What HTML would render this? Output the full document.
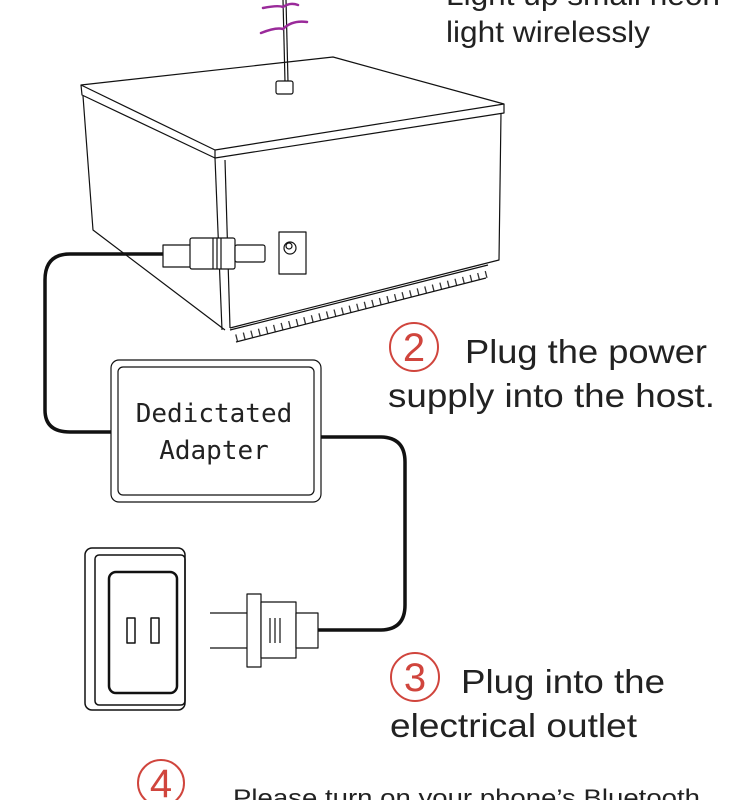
<!DOCTYPE html>
<html><head><meta charset="utf-8"><style>
html,body{margin:0;padding:0;background:#fff;}
svg{display:block}
</style></head><body>
<svg width="750" height="800" viewBox="0 0 750 800" xmlns="http://www.w3.org/2000/svg">
<g fill="none" stroke="#111" stroke-width="1.2" stroke-linejoin="round">
<!-- lid -->
<polygon points="81,85 333,57 504,104 215,150" fill="#fff"/>
<polyline points="81,85 82,95 215,158 215,150"/>
<polyline points="215,158 504,113 504,104"/>
<!-- plant stem -->
<line x1="283" y1="0" x2="285" y2="82"/>
<line x1="286" y1="0" x2="288" y2="82"/>
<rect x="276" y="81" width="17" height="13" rx="2" fill="#fff"/>
<!-- body -->
<polyline points="83,96 93,230 225,330"/>
<line x1="215" y1="158" x2="222" y2="330"/>
<line x1="225" y1="160" x2="230" y2="328"/>
<polyline points="501,113 499,260 230,328"/>
<!-- grille -->
<line x1="230" y1="330" x2="488" y2="265"/>
<line x1="236" y1="338" x2="488" y2="274" stroke-width="7" stroke-dasharray="1.3 6.5" stroke="#333"/>
<line x1="236" y1="342" x2="486" y2="278"/>
<!-- DC jack -->
<rect x="279" y="232" width="27" height="42"/>
<circle cx="290" cy="248" r="6"/>
<circle cx="289" cy="246" r="3"/>
<!-- host plug -->
<rect x="163" y="245" width="28" height="22" fill="#fff"/>
<rect x="190" y="238" width="45" height="31" rx="2" fill="#fff"/>
<line x1="213" y1="238" x2="213" y2="269"/><line x1="217" y1="238" x2="217" y2="269"/><line x1="221" y1="238" x2="221" y2="269"/>
<rect x="235" y="245" width="30" height="17" rx="2" fill="#fff"/>
<!-- cables -->
<path d="M163,254 L70,254 Q45,254 45,280 L45,410 Q45,432 70,432 L115,432" stroke-width="3.5"/>
<path d="M321,437 L380,437 Q405,437 405,462 L405,605 Q405,630 380,630 L318,630" stroke-width="3.5"/>
<!-- adapter -->
<rect x="111" y="360" width="210" height="142" rx="8" fill="#fff"/>
<rect x="118" y="367" width="196" height="128" rx="5"/>
<!-- outlet -->
<rect x="85" y="548" width="100" height="162" rx="7" stroke-width="1.5"/>
<rect x="95" y="555" width="90" height="150" rx="4" stroke-width="1.5"/>
<rect x="109" y="572" width="68" height="121" rx="7" stroke-width="2.5"/>
<rect x="127" y="618" width="8" height="25" stroke-width="1.5"/>
<rect x="151" y="618" width="8" height="25" stroke-width="1.5"/>
<!-- wall plug -->
<line x1="210" y1="613" x2="247" y2="613"/><line x1="210" y1="648" x2="247" y2="648"/>
<rect x="247" y="594" width="14" height="73" fill="#fff"/>
<rect x="261" y="602" width="35" height="56" fill="#fff"/>
<line x1="270" y1="618" x2="270" y2="643"/><line x1="275" y1="618" x2="275" y2="643"/><line x1="280" y1="618" x2="280" y2="643"/>
<rect x="296" y="613" width="22" height="35" fill="#fff"/>
</g>
<!-- leaves -->
<g fill="none" stroke="#9a2a9a" stroke-width="2.5" stroke-linecap="round">
<path d="M261,33 Q276,27 283,29 Q292,20 307,22"/>
<path d="M263,8 Q278,5 283,7 Q290,2 298,5"/>
</g>
<g font-family="'DejaVu Sans Mono','Liberation Mono',monospace" font-size="26" fill="#222" text-anchor="middle">
<text x="214" y="422">Dedictated</text>
<text x="214" y="459">Adapter</text>
</g>
<g fill="none" stroke="#d0453d" stroke-width="2">
<circle cx="414" cy="347" r="24"/>
<circle cx="415" cy="677" r="24"/>
<circle cx="161" cy="783" r="23"/>
</g>
<g font-family="'Liberation Sans',sans-serif" fill="#d0453d" text-anchor="middle" font-size="40">
<text x="414" y="361">2</text>
<text x="415" y="691">3</text>
<text x="161" y="797">4</text>
</g>
<g font-family="'Liberation Sans',sans-serif" fill="#222">
<text x="446" y="5" font-size="30" textLength="274" lengthAdjust="spacingAndGlyphs">Light up small neon</text>
<text x="446" y="42" font-size="30" textLength="204" lengthAdjust="spacingAndGlyphs">light wirelessly</text>
<text x="465" y="363" font-size="33" textLength="242" lengthAdjust="spacingAndGlyphs">Plug the power</text>
<text x="388" y="407" font-size="33" textLength="327" lengthAdjust="spacingAndGlyphs">supply into the host.</text>
<text x="461" y="693" font-size="33" textLength="204" lengthAdjust="spacingAndGlyphs">Plug into the</text>
<text x="390" y="737" font-size="33" textLength="247" lengthAdjust="spacingAndGlyphs">electrical outlet</text>
<text x="233" y="806" font-size="24" textLength="467" lengthAdjust="spacingAndGlyphs">Please turn on your phone’s Bluetooth</text>
</g>
</svg>
</body></html>
